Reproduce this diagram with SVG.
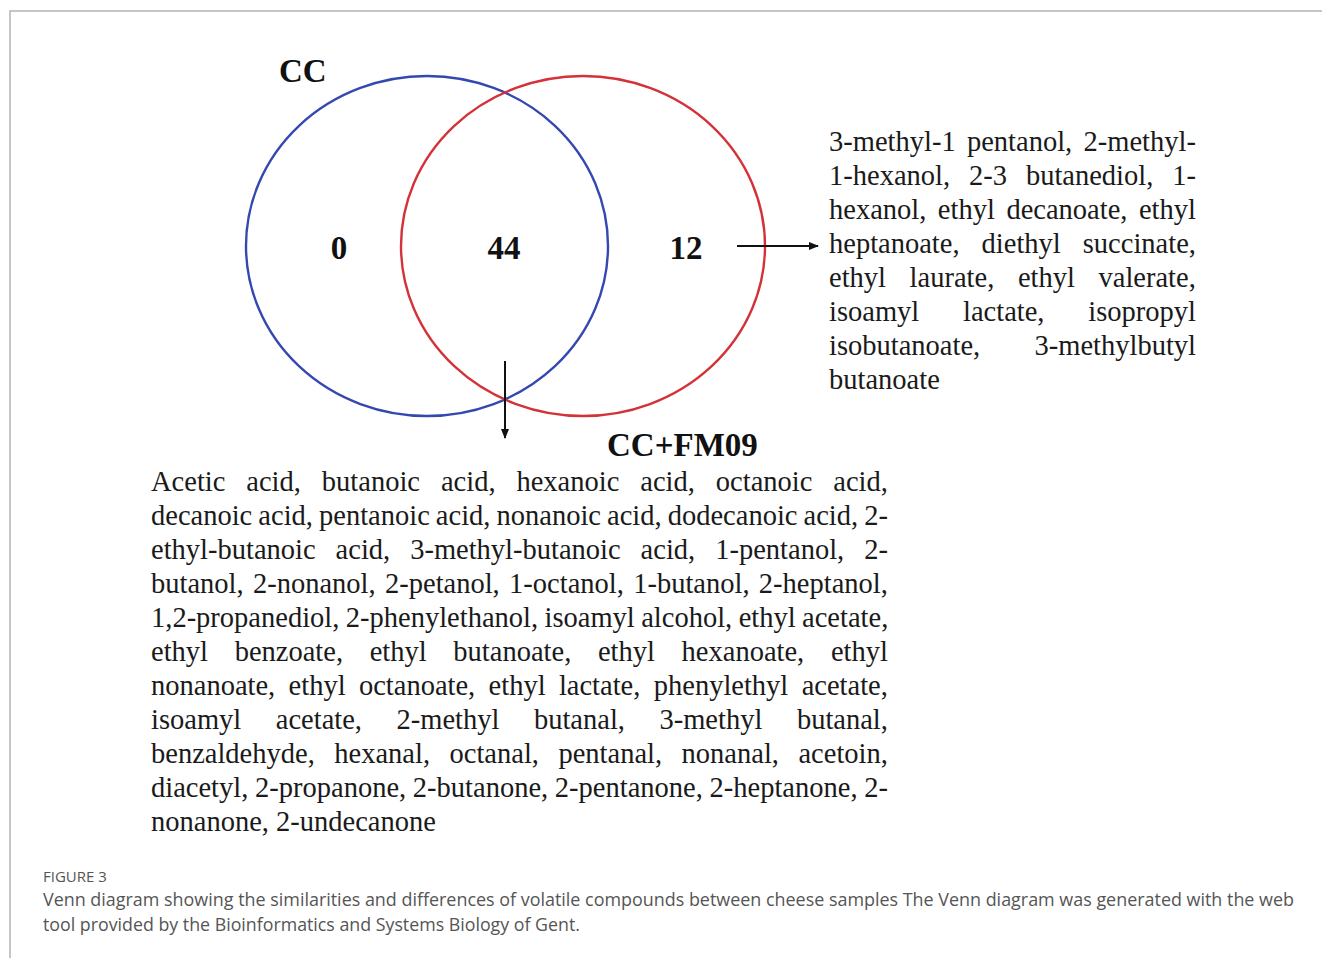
<svg xmlns="http://www.w3.org/2000/svg" width="1322" height="958" viewBox="0 0 1322 958">
<style>
.frame{stroke:#b4b4b4;stroke-width:1.5;fill:none}
.set{fill:none;stroke-width:2.4}
.bold{font-family:"Liberation Serif","Times New Roman",serif;font-weight:bold;font-size:33px;fill:#111}
.num{font-family:"Liberation Serif","Times New Roman",serif;font-weight:bold;font-size:33px;fill:#111;text-anchor:middle}
.body{font-family:"Liberation Serif","Times New Roman",serif;font-size:28.5px;fill:#1a1a1a}
.conn{stroke:#111;stroke-width:2;fill:none}
.cap{font-family:"Open Sans","Noto Sans",sans-serif;fill:#555}
</style>
<defs>
<marker id="arr" markerWidth="10" markerHeight="8" refX="9" refY="4" orient="auto" markerUnits="userSpaceOnUse">
<path d="M0,0 L10,4 L0,8 Z" fill="#111"/>
</marker>
</defs>
<rect width="1322" height="958" fill="#ffffff"/>
<g id="frame">
<path class="frame" d="M10,958 V11 H1322"/>
</g>
<g id="set-cc">
<ellipse class="set" cx="427" cy="246" rx="181" ry="170" stroke="#3448b0"/>
<text class="bold" x="279" y="82">CC</text>
</g>
<g id="set-ccfm09">
<ellipse class="set" cx="583" cy="246" rx="182" ry="170" stroke="#d23238"/>
<text class="bold" x="607" y="456">CC+FM09</text>
</g>
<g id="counts">
<text class="num" x="339" y="259">0</text>
<text class="num" x="504" y="259">44</text>
<text class="num" x="686" y="259">12</text>
</g>
<g id="connectors">
<line class="conn" x1="505" y1="361" x2="505" y2="438" marker-end="url(#arr)"/>
<line class="conn" x1="737" y1="246" x2="818" y2="246" marker-end="url(#arr)"/>
</g>
<g id="unique-list">
<text class="body" x="829" y="151" word-spacing="4.19">3-methyl-1 pentanol, 2-methyl-</text>
<text class="body" x="829" y="185" word-spacing="11.78">1-hexanol, 2-3 butanediol, 1-</text>
<text class="body" x="829" y="219" word-spacing="4.4">hexanol, ethyl decanoate, ethyl</text>
<text class="body" x="829" y="253" word-spacing="14.9">heptanoate, diethyl succinate,</text>
<text class="body" x="829" y="287" word-spacing="16.5">ethyl laurate, ethyl valerate,</text>
<text class="body" x="829" y="321" word-spacing="36.65">isoamyl lactate, isopropyl</text>
<text class="body" x="829" y="355" word-spacing="47.2">isobutanoate, 3-methylbutyl</text>
<text class="body" x="829" y="389">butanoate</text>
</g>
<g id="shared-list">
<text class="body" x="151" y="491" word-spacing="13.82">Acetic acid, butanoic acid, hexanoic acid, octanoic acid,</text>
<text class="body" x="151" y="525" word-spacing="-1.06">decanoic acid, pentanoic acid, nonanoic acid, dodecanoic acid, 2-</text>
<text class="body" x="151" y="559" word-spacing="12.84">ethyl-butanoic acid, 3-methyl-butanoic acid, 1-pentanol, 2-</text>
<text class="body" x="151" y="593" word-spacing="2.22">butanol, 2-nonanol, 2-petanol, 1-octanol, 1-butanol, 2-heptanol,</text>
<text class="body" x="151" y="627" word-spacing="-0.7">1,2-propanediol, 2-phenylethanol, isoamyl alcohol, ethyl acetate,</text>
<text class="body" x="151" y="661" word-spacing="19.54">ethyl benzoate, ethyl butanoate, ethyl hexanoate, ethyl</text>
<text class="body" x="151" y="695" word-spacing="6.22">nonanoate, ethyl octanoate, ethyl lactate, phenylethyl acetate,</text>
<text class="body" x="151" y="729" word-spacing="27.4">isoamyl acetate, 2-methyl butanal, 3-methyl butanal,</text>
<text class="body" x="151" y="763" word-spacing="12.38">benzaldehyde, hexanal, octanal, pentanal, nonanal, acetoin,</text>
<text class="body" x="151" y="797" word-spacing="-0.44">diacetyl, 2-propanone, 2-butanone, 2-pentanone, 2-heptanone, 2-</text>
<text class="body" x="151" y="831">nonanone, 2-undecanone</text>
</g>
<g id="caption">
<text class="cap" x="43" y="882" font-size="15">FIGURE 3</text>
<text class="cap" x="43" y="906" font-size="17.8" textLength="1251" lengthAdjust="spacingAndGlyphs">Venn diagram showing the similarities and differences of volatile compounds between cheese samples The Venn diagram was generated with the web</text>
<text class="cap" x="43" y="931" font-size="17.8">tool provided by the Bioinformatics and Systems Biology of Gent.</text>
</g>
</svg>
